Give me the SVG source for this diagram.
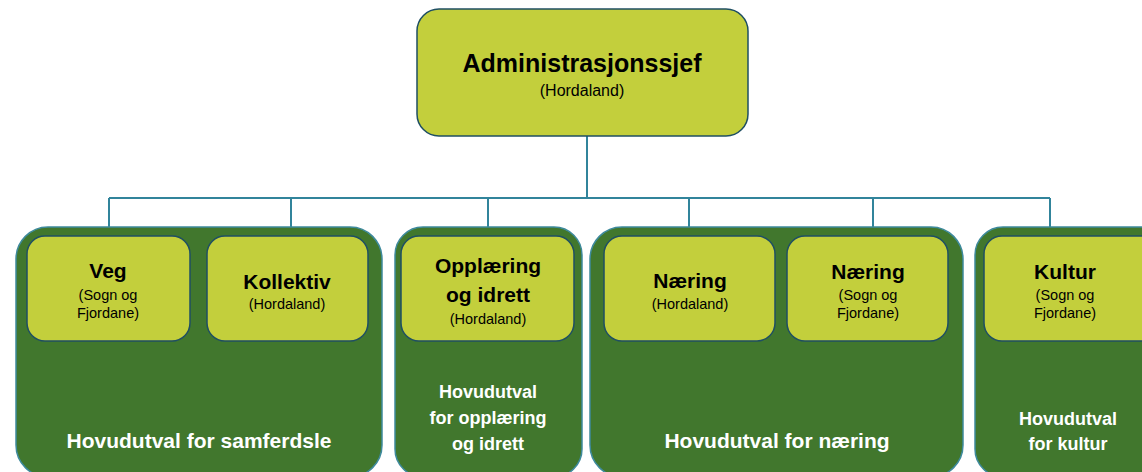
<svg xmlns="http://www.w3.org/2000/svg" width="1142" height="472" viewBox="0 0 1142 472">
<style>
.grp{fill:#41772d;stroke:#3e8a9c;stroke-width:1.5}
.box{fill:#c3cf3c;stroke:#1f4f63;stroke-width:1.5}
.t{font-family:"Liberation Sans",Arial,sans-serif;text-anchor:middle;fill:#000}
.h{font-weight:bold;font-size:21px}
.s{font-size:14.5px}
.w{font-family:"Liberation Sans",Arial,sans-serif;text-anchor:middle;fill:#fff;font-weight:bold}
.c{fill:none;stroke:#31849b;stroke-width:2}
</style>
<rect width="1142" height="472" fill="#fff"/>
<g id="connectors">
<path class="c" d="M587 136V198M109 198H1050M109 198V236M291 198V236M488 198V236M689 198V236M873 198V236M1050 198V236"/>
</g>
<g id="grp-samferdsle">
<rect class="grp" x="16" y="227" width="366" height="250" rx="32"/>
<text class="w" x="199" y="448" font-size="21">Hovudutval for samferdsle</text>
</g>
<g id="grp-opplaering">
<rect class="grp" x="395" y="227" width="187" height="250" rx="28"/>
<text class="w" x="488" y="398" font-size="18">Hovudutval</text>
<text class="w" x="488" y="424" font-size="18">for opplæring</text>
<text class="w" x="488" y="450" font-size="18">og idrett</text>
</g>
<g id="grp-naering">
<rect class="grp" x="590" y="227" width="373" height="250" rx="32"/>
<text class="w" x="777" y="448" font-size="21">Hovudutval for næring</text>
</g>
<g id="grp-kultur">
<rect class="grp" x="975" y="227" width="200" height="250" rx="28"/>
<text class="w" x="1068" y="425" font-size="18">Hovudutval</text>
<text class="w" x="1068" y="450" font-size="18">for kultur</text>
</g>
<g id="admin">
<rect class="box" x="417" y="9" width="331" height="127" rx="22"/>
<text class="t" x="582" y="72" font-weight="bold" font-size="25">Administrasjonssjef</text>
<text class="t" x="582" y="96" font-size="16">(Hordaland)</text>
</g>
<g id="veg">
<rect class="box" x="27" y="236" width="163" height="105" rx="18"/>
<text class="t h" x="108" y="278">Veg</text>
<text class="t s" x="108" y="300">(Sogn og</text>
<text class="t s" x="108" y="318">Fjordane)</text>
</g>
<g id="kollektiv">
<rect class="box" x="207" y="236" width="161" height="105" rx="18"/>
<text class="t h" x="287" y="289">Kollektiv</text>
<text class="t s" x="287" y="309">(Hordaland)</text>
</g>
<g id="opplaering">
<rect class="box" x="401" y="236" width="173" height="105" rx="18"/>
<text class="t h" x="488" y="273">Opplæring</text>
<text class="t h" x="488" y="302">og idrett</text>
<text class="t s" x="488" y="324">(Hordaland)</text>
</g>
<g id="naering-h">
<rect class="box" x="604" y="236" width="171" height="105" rx="18"/>
<text class="t h" x="690" y="288">Næring</text>
<text class="t s" x="690" y="309">(Hordaland)</text>
</g>
<g id="naering-s">
<rect class="box" x="787" y="236" width="161" height="105" rx="18"/>
<text class="t h" x="868" y="279">Næring</text>
<text class="t s" x="868" y="300">(Sogn og</text>
<text class="t s" x="868" y="318">Fjordane)</text>
</g>
<g id="kultur">
<rect class="box" x="984" y="236" width="175" height="105" rx="18"/>
<text class="t h" x="1065" y="279">Kultur</text>
<text class="t s" x="1065" y="300">(Sogn og</text>
<text class="t s" x="1065" y="318">Fjordane)</text>
</g>
</svg>
